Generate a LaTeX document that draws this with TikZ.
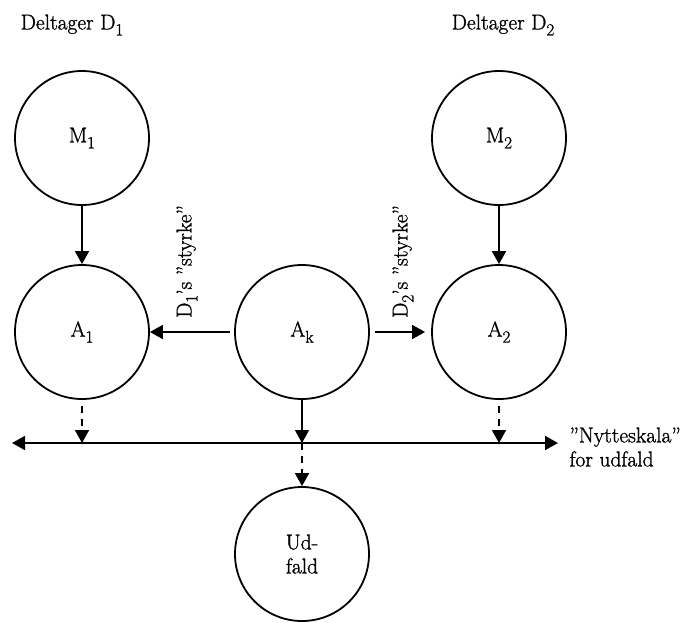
\documentclass[tikz,border=0pt]{standalone}
\usepackage{fontspec}
\setmainfont{Latin Modern Roman}[FakeBold=1.2]
\usetikzlibrary{arrows.meta}
% lowered index (D1, M1, A2, ...)
\newcommand\idx[1]{\raisebox{-6pt}{\fontsize{17}{17}\selectfont #1}}
\begin{document}
\begin{tikzpicture}[x=1pt,y=-1pt,
  every node/.style={font=\fontsize{21.5}{24}\selectfont},
  ring/.style={draw,circle,line width=1.8pt,minimum size=134pt,inner sep=0pt},
  tip/.style={-{Triangle[width=14pt,length=13pt]}},
  link/.style={tip,line width=1.7pt},
  dlink/.style={tip,line width=1.7pt,dash pattern=on 7pt off 6pt},
  rot/.style={rotate=90,anchor=west,inner sep=0pt}]
\useasboundingbox (0,0) rectangle (692,622);

% participant headings
\node (d1) at (72,25) {Deltager D\idx{1}};
\node (d2) at (503,25) {Deltager D\idx{2}};

% circles
\node[ring] (m1) at (82,138) {M\idx{1}};
\node[ring] (m2) at (499,138) {M\idx{2}};
\node[ring] (a1) at (82,332) {A\idx{1}};
\node[ring] (ak) at (302,332) {A\idx{k}};
\node[ring] (a2) at (499,332) {A\idx{2}};
\node[ring,align=center,font=\fontsize{21.5}{24}\selectfont] (ud) at (302,554) {Ud-\\fald};

% utility scale
\coordinate (axL) at (12,443);
\coordinate (axR) at (558,443);
\draw[line width=1.7pt,{Triangle[width=14pt,length=13pt]}-{Triangle[width=14pt,length=13pt]}] (axL) -- (axR);
\node[anchor=west,align=left] (nyt) at (566,447) {”Nytteskala”\\for udfald};

% points where the outcomes meet the scale
\coordinate (t1) at (a1.south |- axL);
\coordinate (tk) at (ak.south |- axL);
\coordinate (t2) at (a2.south |- axL);

% arrows
\draw[link] (m1) -- (a1);
\draw[link] (m2) -- (a2);
\draw[link,shorten <=4pt] (ak) -- (a1);
\draw[link,shorten <=5pt,shorten >=6pt] (ak) -- (a2);
\draw[dlink,shorten <=6pt] (a1) -- (t1);
\draw[dlink,shorten <=6pt] (a2) -- (t2);
\draw[link,line width=1.2pt] (ak) -- (tk);
\draw[dlink] (tk) -- (ud);

% strength labels
\node[rot] (s1) at (187,318) {D\idx{1}’s ”styrke”};
\node[rot] (s2) at (403,318) {D\idx{2}’s ”styrke”};
\end{tikzpicture}
\end{document}
